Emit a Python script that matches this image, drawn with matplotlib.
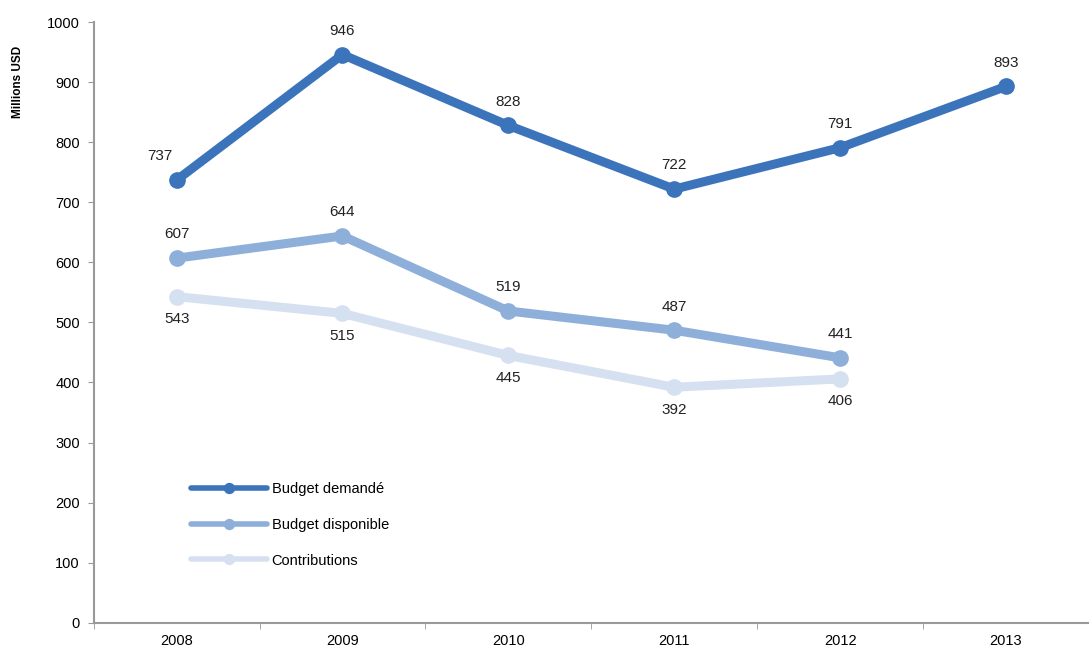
import matplotlib.pyplot as plt
import numpy as np

plt.rcParams['font.family'] = ['Liberation Sans', 'DejaVu Sans']

years = ['2008', '2009', '2010', '2011', '2012', '2013']
demande = [737, 946, 828, 722, 791, 893]
disponible = [607, 644, 519, 487, 441]
contributions = [543, 515, 445, 392, 406]

fig = plt.figure(figsize=(10.89, 6.52), dpi=100)
ax = fig.add_axes([0.086, 0.045, 0.914, 0.921])

x6 = np.arange(len(demande))
x5 = np.arange(len(disponible))

ax.plot(x5, contributions, color='#d5e1f0', lw=6.5, marker='o', ms=11,
        solid_capstyle='round', label='Contributions', zorder=2)
ax.plot(x5, disponible, color='#8eafd9', lw=6.5, marker='o', ms=11,
        solid_capstyle='round', label='Budget disponible', zorder=3)
ax.plot(x6, demande, color='#3b74ba', lw=6.5, marker='o', ms=11,
        solid_capstyle='round', label='Budget demandé', zorder=4)

for i, v in enumerate(demande):
    ax.annotate(str(v), (x6[i], v), xytext=(-12 if i == 0 else 0, 12),
                textcoords='offset points', ha='center', va='bottom', fontsize=11, color='#222222')
for i, v in enumerate(disponible):
    ax.annotate(str(v), (x5[i], v), xytext=(0, 12), textcoords='offset points',
                ha='center', va='bottom', fontsize=11, color='#222222')
for i, v in enumerate(contributions):
    ax.annotate(str(v), (x5[i], v), xytext=(0, -11), textcoords='offset points',
                ha='center', va='top', fontsize=11, color='#222222')

ax.set_xlim(-0.5, 5.5)
ax.set_ylim(0, 1000)
ax.set_yticks(np.arange(0, 1001, 100))
ax.set_xticks(x6)
ax.set_xticklabels(years)
ax.set_xticks(np.arange(-0.5, 5.6, 1), minor=True)
ax.tick_params(axis='x', which='major', length=0, pad=8, labelsize=10.5)
ax.tick_params(axis='x', which='minor', length=4, color='#999999')
ax.tick_params(axis='y', length=4, color='#999999', labelsize=10.5, pad=6)
ax.set_ylabel('Millions USD', fontsize=8.5, fontweight='bold')
ax.yaxis.set_label_coords(-0.07, 0.9)

for s in ['top', 'right']:
    ax.spines[s].set_visible(False)
for s in ['left', 'bottom']:
    ax.spines[s].set_color('#999999')
    ax.spines[s].set_linewidth(1.5)

h, l = ax.get_legend_handles_labels()
leg = ax.legend(h[::-1], l[::-1], loc='lower left', bbox_to_anchor=(0.085, 0.07),
                frameon=False, fontsize=10.5, handlelength=5.2, handletextpad=0.3,
                labelspacing=1.5, markerscale=0.65)
for ln in leg.get_lines():
    ln.set_linewidth(4)

fig.savefig('out.png', dpi=100)
